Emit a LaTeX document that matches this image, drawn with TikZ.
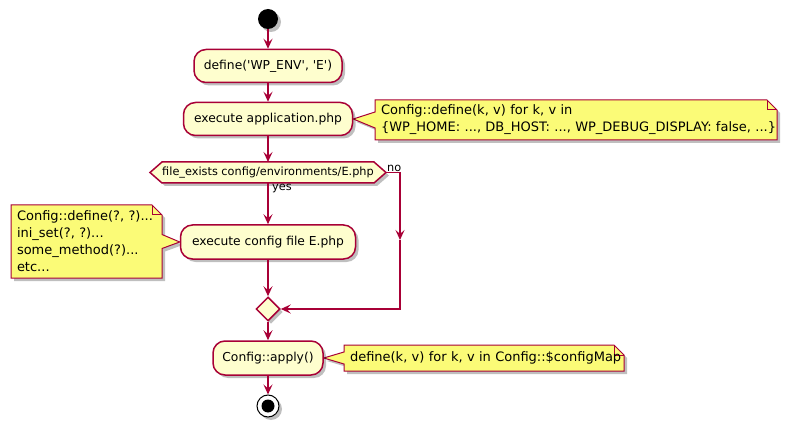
\documentclass[tikz,border=0pt]{standalone}
\usepackage{fontspec}
\setmainfont{DejaVu Sans}
\usetikzlibrary{arrows.meta,calc,positioning,shapes.geometric,shadows,backgrounds}
\definecolor{umlred}{HTML}{A80036}
\definecolor{umlfill}{HTML}{FEFECE}
\definecolor{notefill}{HTML}{FBFB77}
\tikzset{
  umlshadow/.style={drop shadow={shadow xshift=3pt,shadow yshift=-3pt,opacity=0.25,fill=black}},
  actbox/.style={draw=umlred, fill=umlfill, line width=1.5pt, rounded corners=12pt, inner sep=0pt, umlshadow, font=\fontsize{12.3}{14}\selectfont},
  dectext/.style={inner sep=0pt, outer sep=0pt, font=\fontsize{11.3}{13}\selectfont},
  decbox/.style={draw=umlred, fill=umlfill, line width=1.5pt, umlshadow},
  mergebox/.style={diamond, draw=umlred, fill=umlfill, line width=1.5pt, minimum size=24pt, inner sep=0pt, umlshadow},
  notetext/.style={anchor=north west, align=left, inner xsep=6pt, inner ysep=0pt, outer sep=0pt, font=\fontsize{13}{17}\selectfont},
  notebox/.style={draw=umlred, fill=notefill, line width=1pt, umlshadow},
  notefold/.style={draw=umlred, line width=1pt},
  lbl/.style={inner sep=0pt, font=\fontsize{11.3}{13}\selectfont},
  flow/.style={draw=umlred, line width=1.5pt, ->},
  startdot/.style={circle, fill=black, minimum size=20pt, inner sep=0pt, umlshadow},
  enddot/.style={circle, draw=black, fill=white, line width=1pt, minimum size=22pt, inner sep=0pt, umlshadow,
    path picture={\fill[black] (path picture bounding box.center) circle (6.5pt);}},
}
\begin{document}
\begin{tikzpicture}[x=1pt,y=-1pt,>={Stealth[length=10pt,width=9pt,inset=4pt]}]
	\useasboundingbox (0,0) rectangle (796,425);
	% main column
	\node[startdot] (start) at (268,19) {};
	\node[actbox, minimum width=148pt, minimum height=33pt] (defenv) at (268,66) {define(\textquotesingle WP\_ENV\textquotesingle, \textquotesingle E\textquotesingle)};
	\node[actbox, minimum width=169pt, minimum height=33pt] (execapp) at (268,119) {execute application.php};
	\node[dectext, minimum width=212pt, minimum height=21pt] (haveenv) at (268,172.5) {file\_exists config/environments/E.php};
	\node[actbox, minimum width=175pt, minimum height=34pt] (execcfg) at (268,242) {execute config file E.php};
	\node[mergebox] (merge) at (268,309) {};
	\node[actbox, minimum width=110pt, minimum height=34pt] (apply) at (268,358) {Config::apply()};
	\node[enddot] (stop) at (268,406) {};
	% notes
	\node[notetext, minimum width=402pt, minimum height=40pt, text width=390pt] (noteapp) at (375,100) {\mbox{Config::define(k, v) for k, v in}\\\mbox{\{WP\_HOME: ..., DB\_HOST: ..., WP\_DEBUG\_DISPLAY: false, ...\}}};
	\node[notetext, minimum width=151pt, minimum height=73pt, text width=139pt] (notecfg) at (11,205) {Config::define(?, ?)...\\ini\_set(?, ?)...\\some\_method(?)...\\etc...};
	\node[notetext, minimum width=280pt, minimum height=26pt, text width=268pt] (noteapply) at (344,345) {\mbox{define(k, v) for k, v in Config::\$configMap}};
	% decision
	\coordinate (hexl) at ($(haveenv.west)+(-12,0)$);
	\coordinate (hexr) at ($(haveenv.east)+(12,0)$);
	\node[lbl, anchor=south west] (nolbl) at ($(hexr)+(1,-1)$) {no};
	\node[lbl, anchor=north west] (yeslbl) at ($(haveenv.south)+(4,1)$) {yes};
	\coordinate (nocorner) at (400,172.5); \coordinate (nomid) at (400,240); \coordinate (nolow) at (400,309);
	\begin{scope}[on background layer]
		\draw[decbox] (haveenv.north west) -- (haveenv.north east) -- (hexr) -- (haveenv.south east) -- (haveenv.south west) -- (hexl) -- cycle;
		\draw[notebox] (noteapp.north west) -- ($(noteapp.north east)+(-10,0)$) -- ($(noteapp.north east)+(0,10)$) -- (noteapp.south east) -- (noteapp.south west) -- ($(noteapp.west)+(0,8)$) -- (execapp.east) -- ($(noteapp.west)+(0,-8)$) -- cycle;
		\draw[notefold] ($(noteapp.north east)+(-10,0)$) |- ($(noteapp.north east)+(0,10)$);
		\draw[notebox] (notecfg.north west) -- ($(notecfg.north east)+(-10,0)$) -- ($(notecfg.north east)+(0,10)$) -- ($(notecfg.east)+(0,-7)$) -- (execcfg.west) -- ($(notecfg.east)+(0,7)$) -- (notecfg.south east) -- (notecfg.south west) -- cycle;
		\draw[notefold] ($(notecfg.north east)+(-10,0)$) |- ($(notecfg.north east)+(0,10)$);
		\draw[notebox] (noteapply.north west) -- ($(noteapply.north east)+(-10,0)$) -- ($(noteapply.north east)+(0,10)$) -- (noteapply.south east) -- (noteapply.south west) -- ($(noteapply.west)+(0,6)$) -- (apply.east) -- ($(noteapply.west)+(0,-6)$) -- cycle;
		\draw[notefold] ($(noteapply.north east)+(-10,0)$) |- ($(noteapply.north east)+(0,10)$);
	\end{scope}
	% flow
	\draw[flow] (start) -- (defenv); \draw[flow] (defenv) -- (execapp); \draw[flow] (execapp) -- (haveenv.north);
	\draw[flow] (haveenv.south) -- (execcfg); \draw[flow] (execcfg) -- (merge); \draw[flow] (merge) -- (apply); \draw[flow] (apply) -- (stop);
	\draw[flow] (hexr) -- (nocorner) -- (nomid); \draw[flow] (nomid) -- (nolow) -- (merge.east);
\end{tikzpicture}
\end{document}
